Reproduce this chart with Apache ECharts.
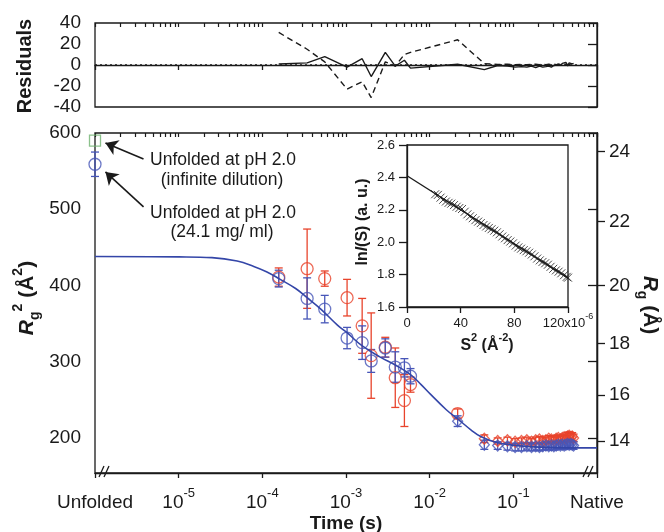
<!DOCTYPE html>
<html><head><meta charset="utf-8">
<script src="https://cdn.jsdelivr.net/npm/echarts@6/dist/echarts.min.js"></script>
<style>html,body{margin:0;padding:0;background:#fff}#c{width:664px;height:532px}</style>
</head><body><div id="c"></div>
<script>
// ================= DATA =================
// Main panel (time in seconds, Rg^2 in Å^2)
const unfoldedTime = 1e-6;                 // "Unfolded" position on the time axis
const unfoldedInfiniteRg2 = [590];         // green square
const unfoldedConcRg2 = [559];             // blue circle at 24.1 mg/ml
const unfoldedConcErr = [16];

const blueCircleTimes = [1.57e-4, 3.43e-4, 5.57e-4, 1.03e-3, 1.56e-3, 2.0e-3, 2.95e-3, 3.88e-3, 4.99e-3, 5.9e-3];
const blueCircleRg2   = [409, 383, 369, 331, 325, 301, 318, 293, 292, 281];
const blueCircleErr   = [11, 27, 18, 14, 22, 15, 12, 20, 12, 10];

const redCircleTimes = [1.57e-4, 3.43e-4, 5.57e-4, 1.03e-3, 1.56e-3, 2.0e-3, 2.95e-3, 3.88e-3, 4.99e-3, 5.9e-3, 0.0216];
const redCircleRg2   = [411, 422, 409, 384, 347, 308, 319, 279, 249, 270, 232];
const redCircleErr   = [12, 52, 10, 24, 36, 56, 13, 39, 34, 10, 6];

const lateTimes = [0.045, 0.065, 0.085, 0.105, 0.125, 0.145, 0.165, 0.185, 0.205, 0.225, 0.245, 0.265, 0.285,
                   0.305, 0.325, 0.345, 0.365, 0.385, 0.405, 0.425, 0.445, 0.465, 0.485, 0.505, 0.525];
const redDiamondRg2 = [199, 196, 197, 195, 196, 197, 195, 197, 198, 196, 197, 199, 198,
                       197, 199, 200, 198, 200, 201, 199, 202, 203, 201, 202, 200];
const redDiamondErr = [5, 4, 4, 4, 4, 4, 4, 4, 4, 4, 4, 4, 4, 4, 4, 4, 4, 4, 4, 4, 5, 5, 5, 5, 5];

const blueDiamondTimes = [0.0216, 0.045, 0.065, 0.085, 0.105, 0.125, 0.145, 0.165, 0.185, 0.205, 0.225, 0.245, 0.265,
                          0.285, 0.305, 0.325, 0.345, 0.365, 0.385, 0.405, 0.425, 0.445, 0.465, 0.485, 0.505, 0.525];
const blueDiamondRg2 = [222, 191, 190, 189, 188, 188, 189, 188, 189, 188, 189, 190, 189,
                        190, 189, 190, 191, 190, 191, 190, 191, 192, 191, 192, 191, 190];
const blueDiamondErr = [7, 6, 5, 5, 5, 5, 5, 5, 5, 5, 5, 5, 5, 5, 5, 5, 5, 5, 5, 5, 5, 5, 5, 5, 5, 5];

// Fit curve
const fitTimes = [1e-6, 1e-5, 2.5e-5, 5e-5, 7.9e-5, 1.12e-4, 1.58e-4, 2.5e-4, 3.43e-4, 5e-4, 7.9e-4, 1.03e-3,
                  1.55e-3, 2.57e-3, 3.98e-3, 5.9e-3, 7.9e-3, 1.02e-2, 1.58e-2, 2.16e-2, 3.16e-2, 4.07e-2,
                  6.3e-2, 0.1, 0.2, 0.5, 1];
const fitRg2 = [438, 437.5, 436.5, 432, 425, 418, 409, 396, 384, 369, 348, 338,
                321, 306, 295, 283, 270, 257.5, 237, 225, 210, 202,
                194, 190.5, 188, 187, 187];

// Residuals panel
const residualBlue = [1, 2, 8, -2, 6, -11, 12, -1, 4.5, -3, 0.7,
                      -4.4, -0.5, -1, -2, -1.5, -2, -1, -2.5, -1, -2, -1.5, -1, -2, -0.5, 0, 1, -0.5, 1.5, 0.5, 2.5, -1, 2, 0.5, 1, 1.5];
const residualRed = [31, 15, 3, -23, -16, -31, 3, -1, 10, 12, 24,
                     1.3, 0.5, 0.8, 0.3, 0.6, 0.2, 0.5, 0.8, 0.4, 0.6, 0.3, 0.7, 0.5, 0.9, 0.4, 0.6, 0.8, 0.5, 0.7, 0.9, 0.6, 0.8, 0.5, 0.7, 0.6];
const residualBlueTimes = blueCircleTimes.concat(blueDiamondTimes);
const residualRedTimes = redCircleTimes.concat(lateTimes);

// Inset (Guinier plot): S^2 in units of 1e-6 Å^-2, ln I(S)
const insetS2 = [21, 23, 25, 27, 29, 31, 33, 35, 37, 39, 41, 43, 45, 47, 49, 51, 53, 55, 57, 59, 61, 63, 65, 67, 69,
                 71, 73, 75, 77, 79, 81, 83, 85, 87, 89, 91, 93, 95, 97, 99, 101, 103, 105, 107, 109, 111, 113, 115, 117, 119, 120];
const insetLnI = [2.296, 2.292, 2.275, 2.262, 2.251, 2.243, 2.238, 2.229, 2.219, 2.211, 2.205, 2.188, 2.172, 2.160, 2.148,
                  2.136, 2.127, 2.118, 2.106, 2.097, 2.088, 2.080, 2.071, 2.061, 2.049, 2.035, 2.024, 2.013, 2.004, 1.993,
                  1.979, 1.968, 1.960, 1.951, 1.944, 1.935, 1.924, 1.913, 1.899, 1.888, 1.878, 1.870, 1.861, 1.848, 1.836,
                  1.826, 1.818, 1.808, 1.796, 1.786, 1.781];
const insetFitS2 = [0, 120];
const insetFitLnI = [2.41, 1.78];

// Tick labels
const timeDecades = [-6, -5, -4, -3, -2, -1, 0];
const rg2Ticks = [200, 300, 400, 500, 600];
const rgTicks = [14, 16, 18, 20, 22, 24];

// ================= HELPERS =================
const L = Math.log10;
const FONT = '"Liberation Sans", Arial, Helvetica, sans-serif';
const BLACK = '#1a1a1a';
const BLUE = '#4756b8';
const FITBLUE = '#3446a8';
const RED = '#e8442c';
const GREEN = '#6fb26f';

const minorTickPos = [];
for (let n = -6; n < 0; n++) for (let k = 1; k <= 9; k++) minorTickPos.push(L(k) + n);
minorTickPos.push(0);

function pts(times, vals) { return times.map((t, i) => [L(t), vals[i]]); }
function errPts(times, vals, errs) { return times.map((t, i) => [L(t), vals[i], errs[i]]); }

function errSeries(times, vals, errs, color, xi, yi) {
  return {
    type: 'custom', xAxisIndex: xi, yAxisIndex: yi, z: 3,
    data: errPts(times, vals, errs),
    encode: { x: 0, y: 1 },
    renderItem: function (params, api) {
      const x = api.value(0), y = api.value(1), e = api.value(2);
      const a = api.coord([x, y + e]), b = api.coord([x, y - e]);
      const w = 4;
      const st = { stroke: color, lineWidth: 1.3 };
      return { type: 'group', children: [
        { type: 'line', shape: { x1: a[0], y1: a[1], x2: b[0], y2: b[1] }, style: st },
        { type: 'line', shape: { x1: a[0] - w, y1: a[1], x2: a[0] + w, y2: a[1] }, style: st },
        { type: 'line', shape: { x1: b[0] - w, y1: b[1], x2: b[0] + w, y2: b[1] }, style: st }
      ]};
    }
  };
}
function hollow(data, symbol, size, color, xi, yi, z) {
  return { type: 'scatter', xAxisIndex: xi, yAxisIndex: yi, symbol: symbol, symbolSize: size, clip: false, z: z || 4,
    data: data, itemStyle: { color: 'rgba(0,0,0,0)', borderColor: color, borderWidth: 1.3 } };
}

const axisLine = { show: true, lineStyle: { color: BLACK, width: 1.3 } };
const xLabelRich = {
  b: { fontSize: 19, fontFamily: FONT, color: BLACK, lineHeight: 20, padding: [6, 0, 0, 0] },
  sup: { fontSize: 13, fontFamily: FONT, color: BLACK, lineHeight: 13, padding: [0, 0, 13, 0] }
};
function timeLabel(v) {
  if (Math.abs(v + 6) < 1e-9) return '{b|Unfolded}';
  if (Math.abs(v) < 1e-9) return '{b|Native}';
  return '{b|10}{sup|' + Math.round(v) + '}';
}
function xMajor(grid, labels) {
  return { type: 'value', gridIndex: grid, min: -6, max: 0, interval: 1, axisLine: axisLine,
    axisTick: { show: true, inside: false, length: 5, lineStyle: { color: BLACK, width: 1.3 } },
    axisLabel: labels ? { show: true, margin: 17, formatter: timeLabel, rich: xLabelRich, showMinLabel: true, showMaxLabel: true } : { show: false },
    splitLine: { show: false } };
}
function xMinor(grid) {
  return { type: 'value', gridIndex: grid, min: -6, max: 0, axisLine: { show: false },
    axisTick: { show: true, inside: true, length: 4, customValues: minorTickPos, lineStyle: { color: BLACK, width: 1.2 } },
    axisLabel: { show: false }, splitLine: { show: false } };
}
const yLabel = { color: BLACK, fontSize: 19, fontFamily: FONT, margin: 14 };

// ================= CHART =================
const chart = echarts.init(document.getElementById('c'), null, { renderer: 'canvas' });
const option = {
  animation: false,
  backgroundColor: '#fff',
  grid: [
    { left: 95, top: 23, width: 502, height: 84, show: true, borderColor: BLACK, borderWidth: 1.3, backgroundColor: 'rgba(0,0,0,0)' },
    { left: 95, top: 133, width: 502, height: 340, show: true, borderColor: BLACK, borderWidth: 1.3, backgroundColor: 'rgba(0,0,0,0)' },
    { left: 407, top: 145, width: 161, height: 162, show: true, borderColor: BLACK, borderWidth: 1.3, backgroundColor: '#fff' }
  ],
  xAxis: [
    xMajor(0, false), xMinor(0),
    xMajor(1, true), xMinor(1),
    { type: 'value', gridIndex: 2, min: 0, max: 120, interval: 40, axisLine: axisLine,
      axisTick: { show: true, inside: false, length: 6, lineStyle: { color: BLACK, width: 1.3 } },
      axisLabel: { margin: 7, formatter: v => v === 120 ? '{b|120x10}{sup|-6}' : '{b|' + v + '}',
        rich: { b: { fontSize: 13, fontFamily: FONT, color: BLACK, lineHeight: 14, padding: [4, 0, 0, 0] },
                sup: { fontSize: 9, fontFamily: FONT, color: BLACK, lineHeight: 9, padding: [0, 0, 9, 0] } } },
      splitLine: { show: false } }
  ],
  yAxis: [
    { type: 'value', gridIndex: 0, min: -40, max: 40, interval: 20, axisLine: axisLine,
      axisTick: { show: true, length: 9, lineStyle: { color: BLACK, width: 1.3 } },
      axisLabel: yLabel, splitLine: { show: false } },
    { type: 'value', gridIndex: 1, min: 154, max: 600, axisLine: axisLine,
      axisTick: { show: true, length: 9, customValues: rg2Ticks, lineStyle: { color: BLACK, width: 1.3 } },
      axisLabel: Object.assign({ customValues: rg2Ticks }, yLabel), splitLine: { show: false } },
    { type: 'value', gridIndex: 1, min: 154, max: 600, position: 'right', axisLine: axisLine,
      axisTick: { show: true, length: 8, customValues: rgTicks.map(r => r * r), lineStyle: { color: BLACK, width: 1.3 } },
      axisLabel: Object.assign({}, yLabel, { margin: 12, customValues: rgTicks.map(r => r * r), formatter: v => String(Math.round(Math.sqrt(v))) }),
      splitLine: { show: false } },
    { type: 'value', gridIndex: 2, min: 1.6, max: 2.6, interval: 0.2, axisLine: axisLine,
      axisTick: { show: true, length: 8, lineStyle: { color: BLACK, width: 1.3 } },
      axisLabel: { color: BLACK, fontSize: 13, fontFamily: FONT, margin: 12, formatter: v => v.toFixed(1) },
      splitLine: { show: false } }
  ],
  series: [
    // residuals
    { type: 'line', xAxisIndex: 0, yAxisIndex: 0, data: pts(residualRedTimes, residualRed), symbol: 'none',
      lineStyle: { color: BLACK, width: 1.4, type: [6, 4] }, z: 3 },
    { type: 'line', xAxisIndex: 0, yAxisIndex: 0, data: pts(residualBlueTimes, residualBlue), symbol: 'none',
      lineStyle: { color: BLACK, width: 1.4 }, z: 4,
      markLine: { silent: true, symbol: 'none', label: { show: false },
        lineStyle: { color: BLACK, width: 1.6, type: [2, 3] }, data: [{ yAxis: 0 }] } },
    // red data
    errSeries(redCircleTimes, redCircleRg2, redCircleErr, RED, 2, 1),
    hollow(pts(redCircleTimes, redCircleRg2), 'circle', 12, RED, 2, 1),
    errSeries(lateTimes, redDiamondRg2, redDiamondErr, RED, 2, 1),
    hollow(pts(lateTimes, redDiamondRg2), 'diamond', [10, 11], RED, 2, 1),
    // blue data
    errSeries(blueCircleTimes, blueCircleRg2, blueCircleErr, BLUE, 2, 1),
    hollow(pts(blueCircleTimes, blueCircleRg2), 'circle', 12, BLUE, 2, 1, 5),
    errSeries(blueDiamondTimes, blueDiamondRg2, blueDiamondErr, BLUE, 2, 1),
    hollow(pts(blueDiamondTimes, blueDiamondRg2), 'diamond', [10, 11], BLUE, 2, 1, 5),
    // unfolded points
    errSeries([unfoldedTime], unfoldedConcRg2, unfoldedConcErr, BLUE, 2, 1),
    hollow(pts([unfoldedTime], unfoldedConcRg2), 'circle', 12, BLUE, 2, 1, 5),
    Object.assign(hollow(pts([unfoldedTime], unfoldedInfiniteRg2), 'rect', 11, GREEN, 2, 1, 5), {
      markLine: { silent: true, symbol: ['none', 'arrow'], symbolSize: 12, label: { show: false },
        lineStyle: { color: BLACK, width: 1.6, type: 'solid' }, itemStyle: { color: BLACK },
        data: [
          [{ coord: [-5.42, 566] }, { coord: [-5.875, 587] }],
          [{ coord: [-5.42, 503] }, { coord: [-5.875, 549] }]
        ] } }),
    // fit
    { type: 'line', xAxisIndex: 2, yAxisIndex: 1, data: pts(fitTimes, fitRg2), symbol: 'none', smooth: 0.4,
      lineStyle: { color: FITBLUE, width: 1.6 }, z: 6 },
    // inset
    { type: 'line', xAxisIndex: 4, yAxisIndex: 3, data: insetFitS2.map((s, i) => [s, insetFitLnI[i]]), symbol: 'none',
      lineStyle: { color: BLACK, width: 1.3 }, z: 6 },
    { type: 'scatter', xAxisIndex: 4, yAxisIndex: 3, data: insetS2.map((s, i) => [s, insetLnI[i]]),
      symbol: 'path://M0,0L10,10M10,0L0,10', symbolSize: 8,
      itemStyle: { color: 'rgba(0,0,0,0)', borderColor: BLACK, borderWidth: 1 }, z: 7 }
  ],
  graphic: [
    { type: 'text', x: 223, y: 160, style: { text: 'Unfolded at pH 2.0', font: '17.5px ' + FONT, fill: BLACK, align: 'center', verticalAlign: 'middle' } },
    { type: 'text', x: 222, y: 180, style: { text: '(infinite dilution)', font: '17.5px ' + FONT, fill: BLACK, align: 'center', verticalAlign: 'middle' } },
    { type: 'text', x: 223, y: 213, style: { text: 'Unfolded at pH 2.0', font: '17.5px ' + FONT, fill: BLACK, align: 'center', verticalAlign: 'middle' } },
    { type: 'text', x: 222, y: 232, style: { text: '(24.1 mg/ ml)', font: '17.5px ' + FONT, fill: BLACK, align: 'center', verticalAlign: 'middle' } },
    { type: 'text', x: 25, y: 66, rotation: Math.PI / 2,
      style: { text: 'Residuals', font: 'bold 20px ' + FONT, fill: BLACK, align: 'center', verticalAlign: 'middle' } },
    { type: 'text', x: 346, y: 524,
      style: { text: 'Time (s)', font: 'bold 19px ' + FONT, fill: BLACK, align: 'center', verticalAlign: 'middle' } },
    { type: 'text', x: 27, y: 298, rotation: Math.PI / 2,
      style: { text: '{i|R}{sub|g}{sup|2}{n| (Å}{sup|2}{n|)}', align: 'center', verticalAlign: 'middle',
        rich: {
          i: { font: 'italic bold 21px ' + FONT, fill: BLACK, lineHeight: 21, padding: [5, 0, 5, 0] },
          n: { font: 'bold 21px ' + FONT, fill: BLACK, lineHeight: 21, padding: [5, 0, 5, 0] },
          sub: { font: 'bold 14px ' + FONT, fill: BLACK, lineHeight: 14, padding: [17, 0, 0, 0] },
          sup: { font: 'bold 14px ' + FONT, fill: BLACK, lineHeight: 14, padding: [0, 0, 17, 0] }
        } } },
    { type: 'text', x: 650, y: 305, rotation: -Math.PI / 2,
      style: { text: '{i|R}{sub|g}{n| (Å)}', align: 'center', verticalAlign: 'middle',
        rich: {
          i: { font: 'italic bold 21px ' + FONT, fill: BLACK, lineHeight: 21, padding: [5, 0, 5, 0] },
          n: { font: 'bold 21px ' + FONT, fill: BLACK, lineHeight: 21, padding: [5, 0, 5, 0] },
          sub: { font: 'bold 14px ' + FONT, fill: BLACK, lineHeight: 14, padding: [17, 0, 0, 0] }
        } } },
    { type: 'text', x: 363, y: 222, rotation: Math.PI / 2,
      style: { text: '{n|ln}{i|I}{n|(S) (a. u.)}', align: 'center', verticalAlign: 'middle',
        rich: {
          i: { font: 'italic bold 16px ' + FONT, fill: BLACK },
          n: { font: 'bold 16px ' + FONT, fill: BLACK }
        } } },
    { type: 'text', x: 487, y: 343,
      style: { text: '{n|S}{sup|2}{n| (Å}{sup|-2}{n|)}', align: 'center', verticalAlign: 'middle',
        rich: {
          n: { font: 'bold 16px ' + FONT, fill: BLACK, lineHeight: 16, padding: [5, 0, 0, 0] },
          sup: { font: 'bold 11px ' + FONT, fill: BLACK, lineHeight: 11, padding: [0, 0, 10, 0] }
        } } },
    // axis break marks
    { type: 'polyline', shape: { points: [[99, 477], [104, 466]] }, style: { stroke: BLACK, lineWidth: 1.3, fill: null } },
    { type: 'polyline', shape: { points: [[104, 477], [109, 466]] }, style: { stroke: BLACK, lineWidth: 1.3, fill: null } },
    { type: 'polyline', shape: { points: [[583, 477], [588, 466]] }, style: { stroke: BLACK, lineWidth: 1.3, fill: null } },
    { type: 'polyline', shape: { points: [[588, 477], [593, 466]] }, style: { stroke: BLACK, lineWidth: 1.3, fill: null } }
  ]
};
chart.setOption(option);
</script>
</body></html>
